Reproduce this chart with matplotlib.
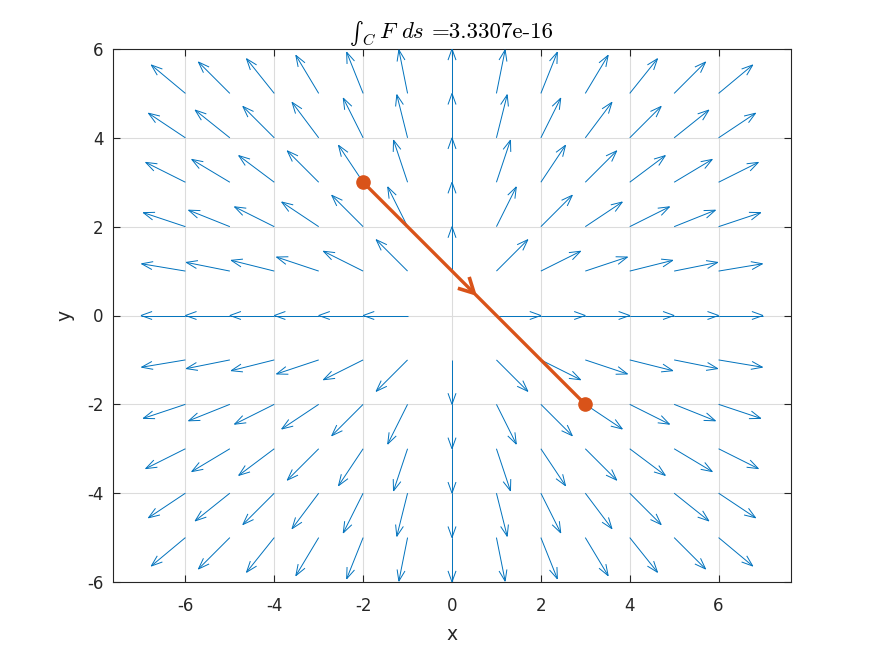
import numpy as np
import matplotlib
matplotlib.use("Agg")
import matplotlib.pyplot as plt
from matplotlib.collections import LineCollection

# grid of arrow tails
grid_x = [-6, -5, -4, -3, -2, -1, 0, 1, 2, 3, 4, 5, 6]
grid_y = [-5, -4, -3, -2, -1, 0, 1, 2, 3, 4, 5]

# path C from P to Q
path_x = [-2, 3]
path_y = [3, -2]

line_integral = 3.3307e-16

BLUE = "#0072BD"
ORANGE = "#D95319"
W, H = 874, 655

plt.rcParams['mathtext.fontset'] = 'cm'


def arrow_segments(x0, y0, u, v, back=0.25, side=0.09):
    """Shaft + two head lines, MATLAB quiver style (open head)."""
    segs = []
    for x, y, dx, dy in zip(x0, y0, u, v):
        n = np.hypot(dx, dy)
        if n == 0 or np.isnan(n):
            continue
        ux, uy = dx / n, dy / n
        tx, ty = x + dx, y + dy
        segs.append([(x, y), (tx, ty)])
        bx, by = tx - back * ux, ty - back * uy
        segs.append([(bx - side * uy, by + side * ux), (tx, ty)])
        segs.append([(bx + side * uy, by - side * ux), (tx, ty)])
    return segs


def ftext(px, py, s, **kw):
    # figure text placed in pixel coordinates (from top-left)
    return fig.text(px / W, 1 - py / H, s, **kw)


X, Y = np.meshgrid(np.array(grid_x, float), np.array(grid_y, float))
R = np.hypot(X, Y)
with np.errstate(invalid='ignore', divide='ignore'):
    U = X / R
    V = Y / R

fig = plt.figure(figsize=(W / 100, H / 100), dpi=100)
ax = fig.add_axes([113 / W, 1 - 582 / H, 678 / W, 533 / H])

segs = arrow_segments(X.ravel(), Y.ravel(), U.ravel(), V.ravel())
ax.add_collection(LineCollection(segs, colors=BLUE, linewidths=0.7, zorder=3))

# path and its direction arrow
ax.plot(path_x, path_y, color=ORANGE, linewidth=2.4, zorder=4,
        solid_capstyle='butt')
ax.plot(path_x, path_y, 'o', color=ORANGE, markersize=9.5, zorder=5)
mx = (path_x[0] + path_x[1]) / 2
my = (path_y[0] + path_y[1]) / 2
dx = path_x[1] - path_x[0]
dy = path_y[1] - path_y[0]
d = np.hypot(dx, dy)
ux, uy = dx / d, dy / d
back, side = 0.34, 0.18
bx, by = mx - back * ux, my - back * uy
head = [[(bx - side * uy, by + side * ux), (mx, my)],
        [(bx + side * uy, by - side * ux), (mx, my)]]
ax.add_collection(LineCollection(head, colors=ORANGE, linewidths=2.6, zorder=4))

ax.set_xlim(-7.63, 7.63)
ax.set_ylim(-6, 6)
ax.set_xticks(np.arange(-6, 7, 2))
ax.set_yticks(np.arange(-6, 7, 2))
ax.set_xticklabels([str(t) for t in range(-6, 7, 2)])
ax.set_yticklabels([str(t) for t in range(-6, 7, 2)])
ax.tick_params(direction='in', top=True, right=True, length=5, width=0.8,
               labelsize=12, colors='#262626')
ax.tick_params(axis='x', pad=11)
ax.tick_params(axis='y', pad=7)
ax.grid(True, color='#dcdcdc', linewidth=0.8, zorder=0)
ax.set_axisbelow(True)
for sp in ax.spines.values():
    sp.set_color('#262626')
    sp.set_linewidth(0.8)

ax.set_xlabel('x', fontsize=13.5, color='#262626', labelpad=7)
ax.set_ylabel('y', fontsize=13.5, color='#262626', labelpad=9)

# title: text-style integral (cmex10 'R') + pieces, LaTeX look
ftext(350, 20, 'R', family='cmex10', fontsize=15, va='top', ha='left')
ftext(362, 45, r'$C$', fontsize=11.5, va='baseline', ha='left')
ftext(379, 37.5, r'$F$', fontsize=16.5, va='baseline', ha='left')
ftext(401, 37.5, r'$ds$', fontsize=16.5, va='baseline', ha='left')
ftext(432, 37.5, f'={line_integral:.4e}', family='cmr10', fontsize=16.5,
      va='baseline', ha='left')

fig.savefig('out.png', dpi=100)
